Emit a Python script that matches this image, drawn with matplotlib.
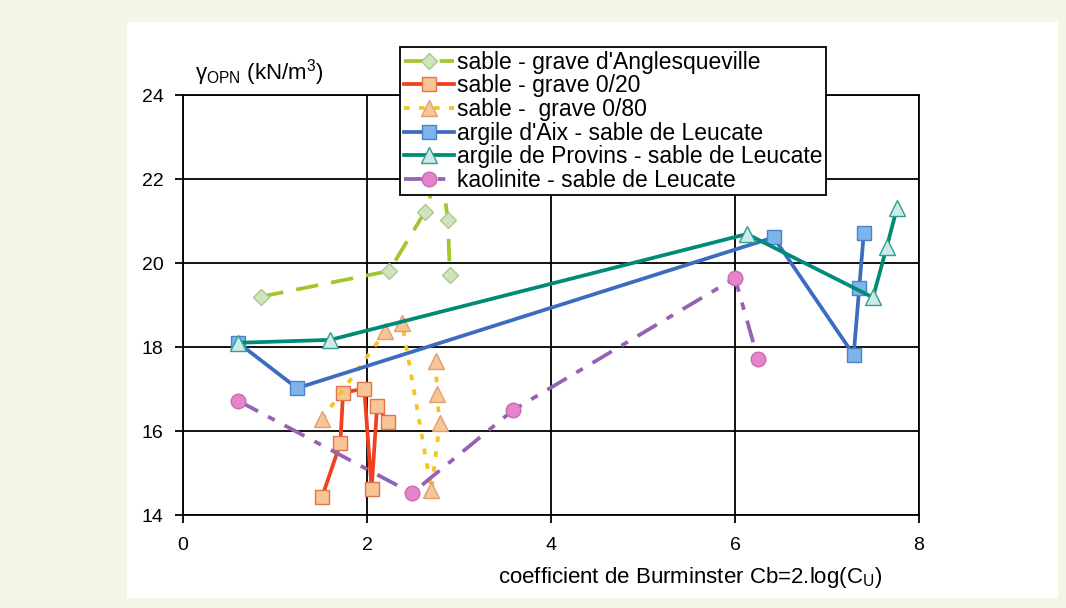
import matplotlib
matplotlib.use("Agg")
import matplotlib.pyplot as plt
from matplotlib.patches import Rectangle

plt.rcParams['font.family'] = ['Liberation Sans', 'DejaVu Sans']
plt.rcParams['mathtext.fontset'] = 'custom'
plt.rcParams['mathtext.rm'] = 'Liberation Sans'
plt.rcParams['mathtext.it'] = 'Liberation Sans'

# ---- data ----
angl_x = [0.85, 2.24, 2.63, 2.80, 2.88, 2.90]
angl_y = [19.2, 19.81, 21.22, 22.3, 21.02, 19.71]

g20_x = [1.51, 1.71, 1.74, 1.97, 2.05, 2.11, 2.23]
g20_y = [14.42, 15.71, 16.91, 17.01, 14.63, 16.60, 16.21]

g80_x = [1.51, 2.20, 2.38, 2.70, 2.79, 2.76, 2.75]
g80_y = [16.28, 18.37, 18.58, 14.60, 16.18, 16.87, 17.67]

aix_x = [0.60, 1.24, 6.42, 7.29, 7.35, 7.40]
aix_y = [18.1, 17.02, 20.61, 17.81, 19.40, 20.71]

prov_x = [0.60, 1.60, 6.13, 7.50, 7.65, 7.76]
prov_y = [18.1, 18.17, 20.69, 19.18, 20.39, 21.30]

kao_x = [0.60, 2.49, 3.59, 6.00, 6.25]
kao_y = [16.72, 14.52, 16.50, 19.64, 17.71]

labels = ["sable - grave d'Anglesqueville", "sable - grave 0/20", "sable -  grave 0/80",
          "argile d'Aix - sable de Leucate", "argile de Provins - sable de Leucate",
          "kaolinite - sable de Leucate"]
x_ticks = [0, 2, 4, 6, 8]
y_ticks = [14, 16, 18, 20, 22, 24]

fig = plt.figure(figsize=(10.66, 6.08), dpi=100)
fig.patch.set_facecolor('#f3f6e7')
fig.patches.append(Rectangle((127/1066, 1-598/608), (1058-127)/1066, (598-22)/608,
                             transform=fig.transFigure, facecolor='white', edgecolor='none', zorder=-5))

ax = fig.add_axes([183/1066, 1-515/608, (919-183)/1066, (515-95)/608])
ax.set_zorder(2)
ax.set_facecolor('white')

lw = 2.7
ms = 10.5
ax.plot(angl_x, angl_y, color='#a2c62c', lw=lw, dashes=(6, 3.5), marker='D', ms=ms-2,
        mfc='#cfe3bd', mec='#a9c98e', mew=1, label=labels[0], zorder=3)
ax.plot(g20_x, g20_y, color='#f0401e', lw=lw, marker='s', ms=ms,
        mfc='#f9c496', mec='#e2734a', mew=1, label=labels[1], zorder=3)
ax.plot(g80_x, g80_y, color='#f7c41c', lw=lw, dashes=(1.5, 2.5), marker='^', ms=ms+1,
        mfc='#f9c496', mec='#e0a070', mew=1, label=labels[2], zorder=3)
ax.plot(aix_x, aix_y, color='#3b6cc0', lw=lw, marker='s', ms=ms,
        mfc='#7db4ea', mec='#4a82cc', mew=1, label=labels[3], zorder=3)
ax.plot(prov_x, prov_y, color='#008a78', lw=lw, marker='^', ms=ms+1,
        mfc='#cdeaea', mec='#2fa08e', mew=1, label=labels[4], zorder=3)
ax.plot(kao_x, kao_y, color='#9463b4', lw=lw, dashes=(6, 3, 2, 3), marker='o', ms=ms,
        mfc='#e584cc', mec='#c86bb0', mew=1, label=labels[5], zorder=3)

ax.set_xlim(0, 8)
ax.set_ylim(14, 24)
ax.set_xticks(x_ticks)
ax.set_yticks(y_ticks)
ax.grid(True, color='black', lw=1.3)
for s in ax.spines.values():
    s.set_color('black')
    s.set_linewidth(1.3)
ax.tick_params(axis='both', direction='out', length=6, width=1.3, labelsize=14, colors='black')
ax.tick_params(axis='x', pad=10)
ax.tick_params(axis='y', pad=8)

leg = ax.legend(loc='upper left', bbox_to_anchor=(0.295, 1.114), fontsize=16.5,
                frameon=True, fancybox=False, edgecolor='black', framealpha=1,
                handlelength=2.2, handletextpad=0.15, labelspacing=0.03, borderpad=0.15,
                borderaxespad=0)
leg.get_frame().set_linewidth(1.3)
leg.set_zorder(10)

fig.text(195/1066, 1-73/608, r'$\gamma_{\mathrm{OPN}}$ (kN/m$^{3}$)', fontsize=16, va='center', ha='left')
fig.text(882/1066, 1-577/608, r'coefficient de Burminster Cb=2.log(C$_{\mathrm{U}}$)', fontsize=16,
         va='center', ha='right')

fig.savefig('out.png', dpi=100, facecolor=fig.get_facecolor())
